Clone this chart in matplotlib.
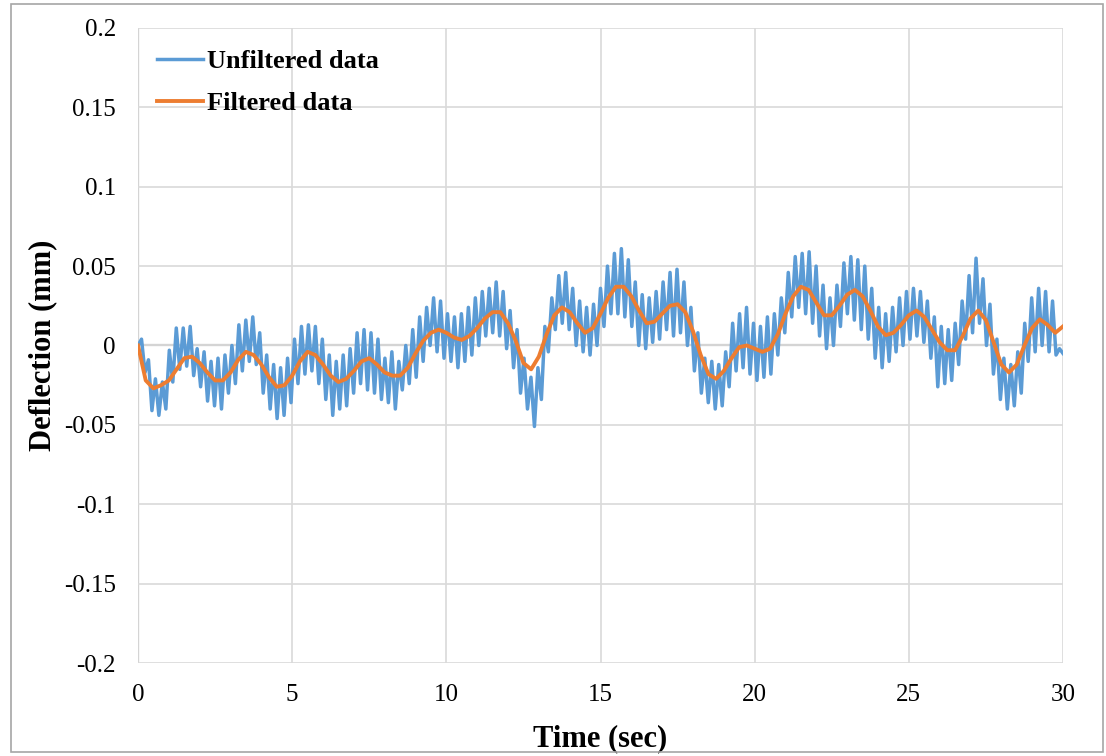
import numpy as np
import matplotlib
matplotlib.use('Agg')
import matplotlib.pyplot as plt
from matplotlib.patches import Rectangle
from matplotlib.ticker import FuncFormatter

plt.rcParams['font.family'] = ['Liberation Serif', 'DejaVu Serif']

# filtered curve, sampled every 0.25 s from 0 to 30 s
filtered = [
    0.000, -0.022, -0.027, -0.025, -0.022, -0.015, -0.008, -0.007,
    -0.011, -0.017, -0.022, -0.022, -0.017, -0.009, -0.004, -0.006,
    -0.012, -0.020, -0.026, -0.025, -0.019, -0.010, -0.004, -0.006,
    -0.012, -0.019, -0.023, -0.021, -0.016, -0.010, -0.008, -0.012,
    -0.017, -0.019, -0.019, -0.014, -0.005, 0.003, 0.008, 0.010,
    0.008, 0.005, 0.0035, 0.006, 0.011, 0.017, 0.021, 0.021,
    0.014, 0.003, -0.011, -0.015, -0.007, 0.007, 0.019, 0.024,
    0.021, 0.014, 0.008, 0.011, 0.020, 0.030, 0.037, 0.037,
    0.031, 0.022, 0.014, 0.015, 0.020, 0.025, 0.026, 0.021,
    0.009, -0.006, -0.018, -0.021, -0.016, -0.008, -0.001, 0.000,
    -0.002, -0.004, -0.002, 0.007, 0.020, 0.031, 0.037, 0.035,
    0.027, 0.019, 0.019, 0.025, 0.032, 0.035, 0.031, 0.022,
    0.012, 0.0065, 0.008, 0.013, 0.019, 0.022, 0.018, 0.010,
    0.002, -0.003, -0.003, 0.006, 0.017, 0.022, 0.016, 0.002,
    -0.012, -0.017, -0.012, 0.000, 0.011, 0.0165, 0.013, 0.008,
    0.012,
]

# raw signal, 267 evenly spaced samples between 0 and 30 s
unfiltered = [
    0.000, 0.004, -0.017, -0.009, -0.041, -0.021, -0.044, -0.023, -0.040, -0.003,
    -0.023, 0.011, -0.015, 0.011, -0.013, 0.012, -0.019, -0.002, -0.026, -0.004,
    -0.035, -0.010, -0.038, -0.008, -0.040, -0.006, -0.030, 0.000, -0.024, 0.013,
    -0.016, 0.016, -0.010, 0.018, -0.012, 0.008, -0.030, -0.006, -0.040, -0.012,
    -0.046, -0.014, -0.044, -0.008, -0.036, 0.004, -0.024, 0.012, -0.018, 0.013,
    -0.016, 0.012, -0.024, 0.004, -0.034, -0.006, -0.044, -0.010, -0.040, -0.006,
    -0.038, -0.002, -0.030, 0.008, -0.024, 0.010, -0.028, 0.008, -0.030, 0.004,
    -0.034, -0.008, -0.036, -0.004, -0.040, -0.010, -0.028, 0.000, -0.024, 0.010,
    -0.020, 0.018, -0.010, 0.024, 0.000, 0.030, -0.004, 0.028, -0.008, 0.020,
    -0.010, 0.018, -0.014, 0.020, -0.010, 0.024, -0.006, 0.030, 0.000, 0.034,
    0.006, 0.036, 0.008, 0.040, 0.006, 0.034, -0.002, 0.022, -0.014, 0.010,
    -0.030, -0.008, -0.040, -0.020, -0.051, -0.014, -0.034, 0.012, -0.004, 0.030,
    0.010, 0.044, 0.014, 0.046, 0.010, 0.036, 0.000, 0.028, -0.004, 0.024,
    -0.006, 0.026, 0.000, 0.036, 0.012, 0.050, 0.020, 0.058, 0.020, 0.061,
    0.018, 0.054, 0.012, 0.040, 0.000, 0.032, -0.002, 0.030, 0.002, 0.034,
    0.004, 0.040, 0.010, 0.046, 0.006, 0.048, 0.008, 0.040, 0.000, 0.024,
    -0.016, 0.008, -0.030, -0.008, -0.036, -0.010, -0.040, -0.012, -0.038, -0.004,
    -0.026, 0.014, -0.016, 0.020, -0.014, 0.024, -0.018, 0.014, -0.022, 0.012,
    -0.020, 0.018, -0.018, 0.020, -0.006, 0.030, 0.008, 0.046, 0.018, 0.056,
    0.024, 0.058, 0.020, 0.059, 0.014, 0.050, 0.006, 0.038, -0.002, 0.030,
    0.000, 0.038, 0.012, 0.052, 0.020, 0.056, 0.016, 0.054, 0.010, 0.050,
    0.004, 0.036, -0.008, 0.024, -0.014, 0.020, -0.010, 0.024, -0.004, 0.030,
    0.000, 0.034, 0.004, 0.036, 0.006, 0.034, 0.002, 0.028, -0.008, 0.018,
    -0.026, 0.012, -0.024, 0.010, -0.022, 0.014, -0.012, 0.028, 0.004, 0.044,
    0.008, 0.055, 0.014, 0.042, 0.000, 0.026, -0.018, 0.004, -0.034, -0.008,
    -0.040, -0.012, -0.038, -0.004, -0.030, 0.014, -0.010, 0.030, -0.004, 0.036,
    0.000, 0.034, -0.004, 0.028, -0.006, -0.002, -0.005,
]

t_raw = np.linspace(0, 30, len(unfiltered))
t_filt = np.linspace(0, 30, len(filtered))

x_ticks = [0, 5, 10, 15, 20, 25, 30]
y_ticks = [-0.2, -0.15, -0.1, -0.05, 0, 0.05, 0.1, 0.15, 0.2]

fig = plt.figure(figsize=(11.06, 7.56), dpi=100)
ax = fig.add_axes([0.1248, 0.123, 0.8363, 0.840])

ax.plot(t_raw, unfiltered, color='#5B9BD5', lw=2.5, label='Unfiltered data',
        solid_joinstyle='round', zorder=3)
ax.plot(t_filt, filtered, color='#ED7D31', lw=2.8, label='Filtered data',
        solid_joinstyle='round', zorder=4)

ax.set_xlim(0, 30)
ax.set_ylim(-0.2, 0.2)
ax.set_xticks(x_ticks)
ax.set_yticks(y_ticks)
ax.yaxis.set_major_formatter(FuncFormatter(lambda v, p: '%g' % v))
ax.grid(True, color='#D9D9D9', lw=1.2, zorder=0)
ax.axhline(0, color='#BFBFBF', lw=1.6, zorder=1)
ax.axvline(0, color='#BFBFBF', lw=1.6, zorder=1)
for s in ax.spines.values():
    s.set_visible(False)
ax.tick_params(axis='y', length=0, labelsize=18, pad=16)
ax.tick_params(axis='x', length=0, labelsize=18, pad=15)

ax.set_xlabel('Time (sec)', fontsize=22, fontweight='bold', labelpad=13)
ax.set_ylabel('Deflection (mm)', fontsize=22, fontweight='bold', labelpad=5)

leg = ax.legend(loc='upper left', frameon=False, prop={'size': 19, 'weight': 'bold'},
                handlelength=1.75, handletextpad=0.15, labelspacing=0.68,
                borderaxespad=0.0, bbox_to_anchor=(0.009, 0.982))

fig.patches.append(Rectangle((0.010, 0.005), 0.987, 0.99, transform=fig.transFigure,
                             fill=False, edgecolor='#A6A6A6', lw=1.2))

fig.savefig('out.png', dpi=100)
